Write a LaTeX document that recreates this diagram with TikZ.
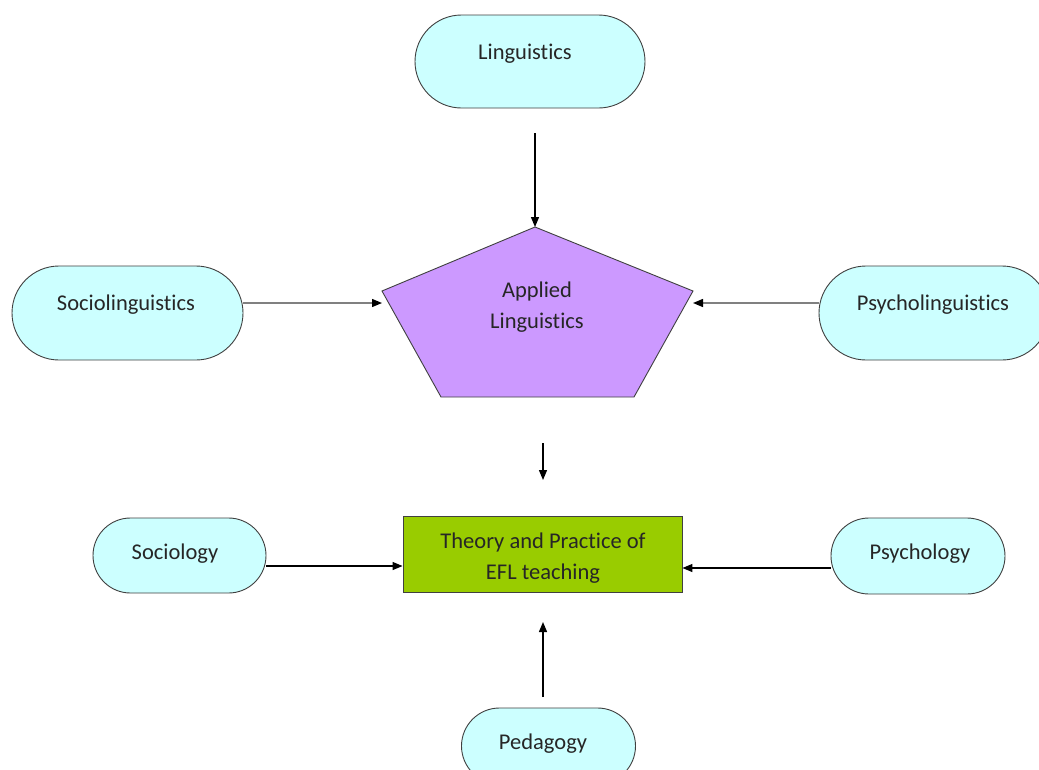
\documentclass[tikz,border=0pt]{standalone}
\usepackage{fontspec}
\setmainfont[Ligatures=NoCommon]{Carlito}
\usetikzlibrary{shapes.misc,arrows.meta}
\definecolor{cyanfill}{HTML}{CCFFFF}
\definecolor{purplefill}{HTML}{CC99FF}
\definecolor{greenfill}{HTML}{99CC00}
\definecolor{edge}{HTML}{404040}
\definecolor{greyline}{HTML}{808080}
\begin{document}
\begin{tikzpicture}[x=1pt,y=-1pt,
  every node/.style={font=\fontsize{22.5}{31}\selectfont, text=black!85},
  stadium/.style={rounded rectangle, draw=edge, line width=0.9pt, fill=cyanfill, inner sep=0pt},
  boxnode/.style={rectangle, draw=edge, line width=0.9pt, fill=greenfill, inner sep=0pt},
  txt/.style={align=center, inner sep=0pt},
  arr/.style={line width=1.3pt, -{Triangle[length=10pt,width=8pt]}},
  garr/.style={line width=1.3pt, draw=greyline, -{Triangle[length=10pt,width=8pt,color=black]}}
]
\useasboundingbox (0,0) rectangle (1039,769);
\clip (0,0) rectangle (1039,769);
\fill[white] (0,0) rectangle (1039,769);

% nodes
\node[stadium, minimum width=230pt, minimum height=93pt] (ling) at (530,61.5) {};
\node[txt] (lingT) at (525,54) {Linguistics};

\node[stadium, minimum width=231pt, minimum height=94pt] (soclin) at (127.5,313) {};
\node[txt] (soclinT) at (126,305) {Sociolinguistics};

\node[stadium, minimum width=230pt, minimum height=94pt] (psylin) at (934,313) {};
\node[txt] (psylinT) at (933,305) {Psycholinguistics};

% pentagon
\coordinate (pt) at (535,227);
\coordinate (pl) at (382,291);
\coordinate (pr) at (693,291);
\coordinate (pbl) at (441,397);
\coordinate (pbr) at (634,397);
\draw[edge, line width=0.9pt, fill=purplefill] (pt) -- (pr) -- (pbr) -- (pbl) -- (pl) -- cycle;
\node[txt] (appl) at (537,307) {Applied\\Linguistics};

\node[boxnode, minimum width=279pt, minimum height=76pt] (efl) at (542.5,554) {};
\node[txt] (eflT) at (543,558) {Theory and Practice of\\EFL teaching};

\node[stadium, minimum width=173pt, minimum height=75pt] (soc) at (179.5,555.5) {};
\node[txt] (socT) at (175,554) {Sociology};

\node[stadium, minimum width=174pt, minimum height=76pt] (psy) at (918,556) {};
\node[txt] (psyT) at (920,554) {Psychology};

\node[stadium, minimum width=174pt, minimum height=76pt] (ped) at (548.5,746) {};
\node[txt] (pedT) at (543,744) {Pedagogy};

% free arrow ends
\coordinate (a1) at (535,133);
\coordinate (a2s) at (543,443);
\coordinate (a2e) at (543,480);
\coordinate (a3s) at (543,697);
\coordinate (a3e) at (543,622);

% connectors
\draw[arr] (a1) -- (pt);
\draw[garr] ([yshift=10pt]soclin.east) -- ([yshift=10pt]soclin.east -| pl);
\draw[garr] ([yshift=10pt]psylin.west) -- ([yshift=10pt]psylin.west -| pr);
\draw[arr] (a2s) -- (a2e);
\draw[arr] ([yshift=-10.5pt]soc.east) -- ([yshift=-10.5pt]soc.east -| efl.west);
\draw[arr] ([yshift=-12pt]psy.west) -- ([yshift=-12pt]psy.west -| efl.east);
\draw[arr] (a3s) -- (a3e);
\end{tikzpicture}
\end{document}
